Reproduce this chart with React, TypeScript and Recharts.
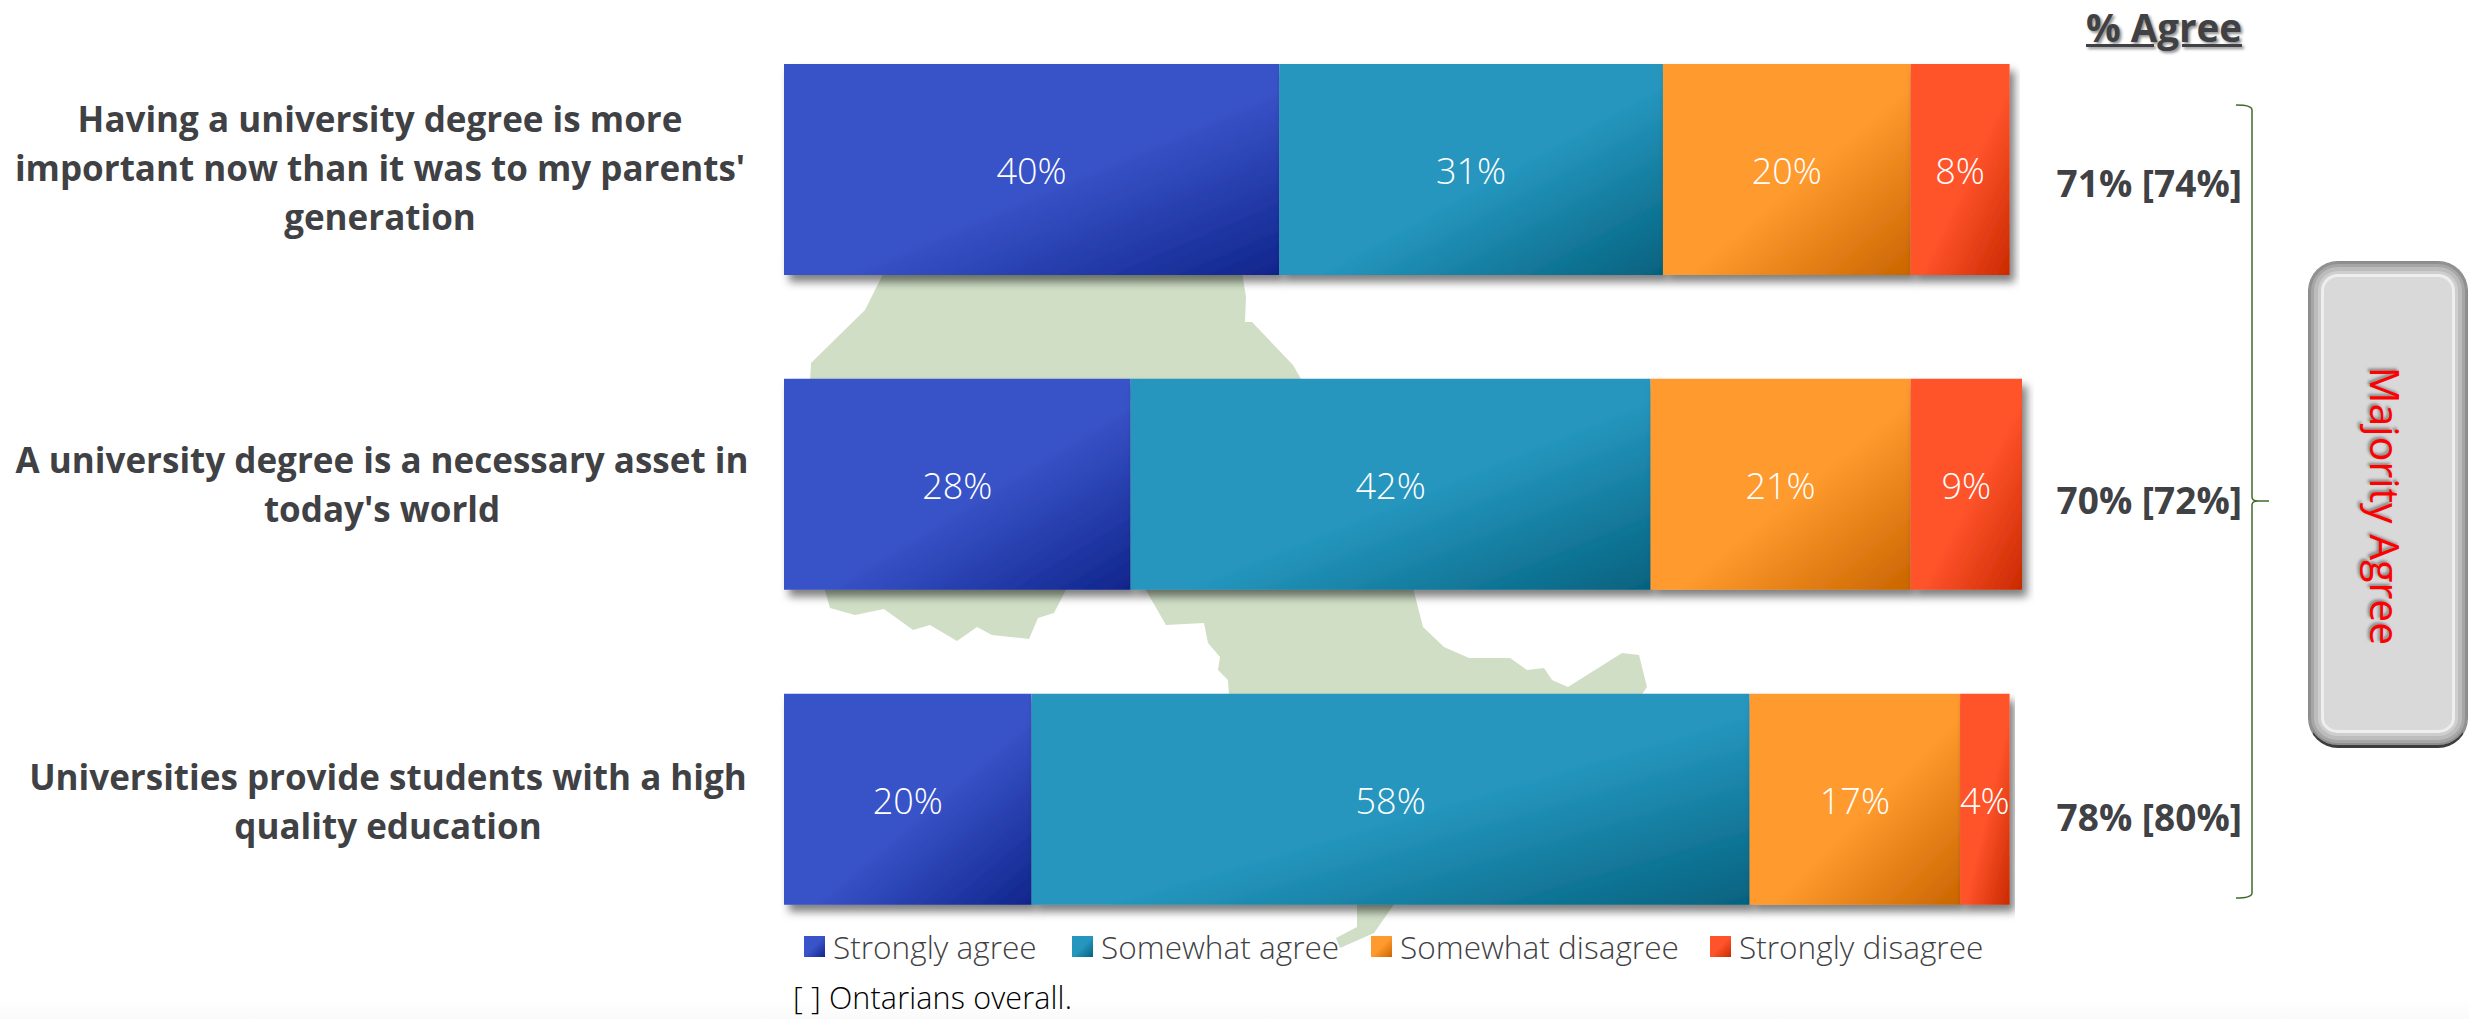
import { BarChart, Bar, XAxis, YAxis, Legend, LabelList } from 'recharts';

const questions = [
  "Having a university degree is more\nimportant now than it was to my parents'\ngeneration",
  "A university degree is a necessary asset in\ntoday's world",
  'Universities provide students with a high\nquality education',
];
const stronglyAgree = [40, 28, 20];
const somewhatAgree = [31, 42, 58];
const somewhatDisagree = [20, 21, 17];
const stronglyDisagree = [8, 9, 4];
const agreeLabels = ['71% [74%]', '70% [72%]', '78% [80%]'];

const seriesNames = ['Strongly agree', 'Somewhat agree', 'Somewhat disagree', 'Strongly disagree'];
const seriesKeys = ['stronglyAgree', 'somewhatAgree', 'somewhatDisagree', 'stronglyDisagree'];
const lightColors = ['#3953C8', '#2596BE', '#FF9A2E', '#FF532B'];
const darkColors = ['#10258C', '#05627F', '#C96500', '#C92A00'];

const chartData = questions.map((q, i) => ({
  question: q,
  agree: agreeLabels[i],
  stronglyAgree: stronglyAgree[i],
  somewhatAgree: somewhatAgree[i],
  somewhatDisagree: somewhatDisagree[i],
  stronglyDisagree: stronglyDisagree[i],
}));

const FONT = '"Open Sans", sans-serif';
const TEXT_COLOR = '#3F4144';
const QUESTION_CENTERS = [380, 382, 388];
const QUESTION_NUDGE = [0, 1.5, 3];
const AGREE_NUDGE = [27.5, 30, 32];

// Ontario map sitting behind the bars, only the bits between the bars show
const MAP_PATHS = [
  'M890 260 L865 310 L811 363 L809 400 L1313 400 L1293 365 L1252 322 L1245 322 L1246 297 L1240 260 Z',
  'M822 580 L830 608 L855 615 L884 609 L913 630 L930 625 L957 641 L977 627 L992 635 L1029 639 L1038 618 L1054 613 L1071 580 Z',
  'M1140 580 L1166 625 L1204 623 L1208 643 L1220 657 L1218 670 L1228 680 L1230 710 L1631 710 L1647 687 L1639 655 L1622 653 L1568 687 L1552 680 L1544 668 L1527 670 L1510 658 L1469 658 L1444 647 L1423 627 L1411 580 Z',
  'M1357 900 L1357 927 L1336 938 L1340 948 L1374 933 L1397 900 Z',
];

const LeftTick = ({ y, payload, index }: any) => {
  const lines = String(payload.value).split('\n');
  const lineHeight = 49;
  const startY = y - ((lines.length - 1) * lineHeight) / 2 + QUESTION_NUDGE[index ?? 0];
  const cx = QUESTION_CENTERS[index ?? 0];
  return (
    <text x={cx} y={startY} textAnchor="middle" fill={TEXT_COLOR} fontFamily={FONT} fontSize={35} fontWeight={700}>
      {lines.map((line, i) => (
        <tspan key={i} x={cx} y={startY + i * lineHeight} dy={12}>
          {line}
        </tspan>
      ))}
    </text>
  );
};

const RightTick = ({ y, payload, index }: any) => (
  <text x={2242} y={y + AGREE_NUDGE[index ?? 0]} textAnchor="end" fill={TEXT_COLOR} fontFamily={FONT} fontSize={37} fontWeight={700}>
    {payload.value}
  </text>
);

const LegendContent = () => {
  const markerX = [804, 1072, 1371, 1710];
  return (
    <div style={{ position: 'relative', width: 2469, height: 40, fontFamily: FONT }}>
      {seriesNames.map((name, i) => (
        <div key={name} style={{ position: 'absolute', left: markerX[i], top: 0, display: 'flex', alignItems: 'center', whiteSpace: 'nowrap' }}>
          <span
            style={{
              width: 21,
              height: 21,
              marginRight: 8,
              background: `linear-gradient(135deg, ${lightColors[i]} 50%, ${darkColors[i]} 100%)`,
            }}
          />
          <span style={{ fontSize: 31.6, fontWeight: 300, color: TEXT_COLOR }}>{name}</span>
        </div>
      ))}
    </div>
  );
};

export default function App() {
  return (
    <div
      style={{
        position: 'absolute',
        left: 0,
        top: 0,
        width: 2469,
        height: 1019,
        overflow: 'hidden',
        background: 'linear-gradient(to bottom, #fff 0, #fff 1000px, #fafafa 1019px)',
      }}
    >
      <svg width={2469} height={1019} style={{ position: 'absolute', left: 0, top: 0 }}>
        {MAP_PATHS.map((d) => (
          <path key={d} d={d} fill="#CFDEC5" />
        ))}
      </svg>

      <div style={{ position: 'absolute', left: 0, top: 0 }}>
        <BarChart
          width={2469}
          height={1019}
          data={chartData}
          layout="vertical"
          barSize={211}
          margin={{ top: 12, right: 0, bottom: 22.5, left: 0 }}
        >
          <defs>
            {seriesKeys.map((key, i) => (
              <linearGradient key={key} id={`grad-${key}`} x1="0" y1="0" x2="1" y2="1">
                <stop offset="55%" stopColor={lightColors[i]} />
                <stop offset="100%" stopColor={darkColors[i]} />
              </linearGradient>
            ))}
            <filter id="barShadow" x="-5%" y="-5%" width="115%" height="120%">
              <feDropShadow dx="5" dy="7" stdDeviation="4.5" floodColor="#000" floodOpacity="0.5" />
            </filter>
          </defs>
          <XAxis type="number" domain={[0, 100]} hide />
          <YAxis yAxisId="left" type="category" dataKey="question" width={784} axisLine={false} tickLine={false} tick={<LeftTick />} interval={0} />
          <YAxis yAxisId="agree" type="category" dataKey="agree" orientation="right" width={447} axisLine={false} tickLine={false} tick={<RightTick />} interval={0} />
          <Legend
            verticalAlign="bottom"
            content={<LegendContent />}
            wrapperStyle={{ position: 'absolute', left: 0, top: 925, width: 2469 }}
          />
          {seriesKeys.map((key, i) => (
            <Bar
              key={key}
              yAxisId="left"
              dataKey={key}
              name={seriesNames[i]}
              stackId="a"
              fill={`url(#grad-${key})`}
              isAnimationActive={false}
              style={{ filter: 'url(#barShadow)' }}
            >
              <LabelList
                dataKey={key}
                position="center"
                formatter={(v: number) => `${v}%`}
                fill="#fff"
                fontFamily={FONT}
                fontSize={36}
                fontWeight={300}
                dy={2}
              />
            </Bar>
          ))}
        </BarChart>
      </div>

      {/* header above the % agree column */}
      <div
        style={{
          position: 'absolute',
          left: 2086,
          top: 1,
          fontFamily: FONT,
          fontSize: 38.5,
          fontWeight: 700,
          color: TEXT_COLOR,
          textDecoration: 'underline',
          textShadow: '2px 2px 3px rgba(0,0,0,0.45)',
          whiteSpace: 'nowrap',
        }}
      >
        % Agree
      </div>

      {/* brace */}
      <svg width={2469} height={1019} style={{ position: 'absolute', left: 0, top: 0, pointerEvents: 'none' }}>
        <path
          d="M2236 105 Q2252 105 2252 110 L2252 497 Q2252 501 2258 501 L2269 501 M2258 501 Q2252 501 2252 505 L2252 893 Q2252 898 2236 898"
          fill="none"
          stroke="#3F6B2A"
          strokeWidth={1.5}
        />
      </svg>

      {/* majority agree box */}
      <div
        style={{
          position: 'absolute',
          left: 2308,
          top: 261,
          width: 160,
          height: 487,
          boxSizing: 'border-box',
          borderRadius: 30,
          background: '#D9D9D9',
          border: '1px solid #8a8a8a',
          borderBottom: '3px solid #3c3c3c',
          boxShadow:
            'inset 0 0 0 2px #8f8f8f, inset 0 0 0 5px #a6a6a6, inset 0 0 0 9px #bcbcbc, inset 0 0 0 12px #cecece, inset 0 0 0 15px #eeeeee',
        }}
      />
      <div
        style={{
          position: 'absolute',
          left: 2386,
          top: 506,
          transform: 'translate(-50%, -50%) rotate(90deg)',
          fontFamily: FONT,
          fontSize: 41,
          color: '#FF0000',
          textShadow: '-2px 2px 3px rgba(0,0,0,0.4)',
          whiteSpace: 'nowrap',
        }}
      >
        Majority Agree
      </div>

      <div
        style={{
          position: 'absolute',
          left: 793,
          top: 981,
          fontFamily: FONT,
          fontSize: 30.5,
          letterSpacing: 0.15,
          lineHeight: '33px',
          fontWeight: 300,
          color: '#000',
          whiteSpace: 'nowrap',
        }}
      >
        [ ] Ontarians overall.
      </div>
    </div>
  );
}
